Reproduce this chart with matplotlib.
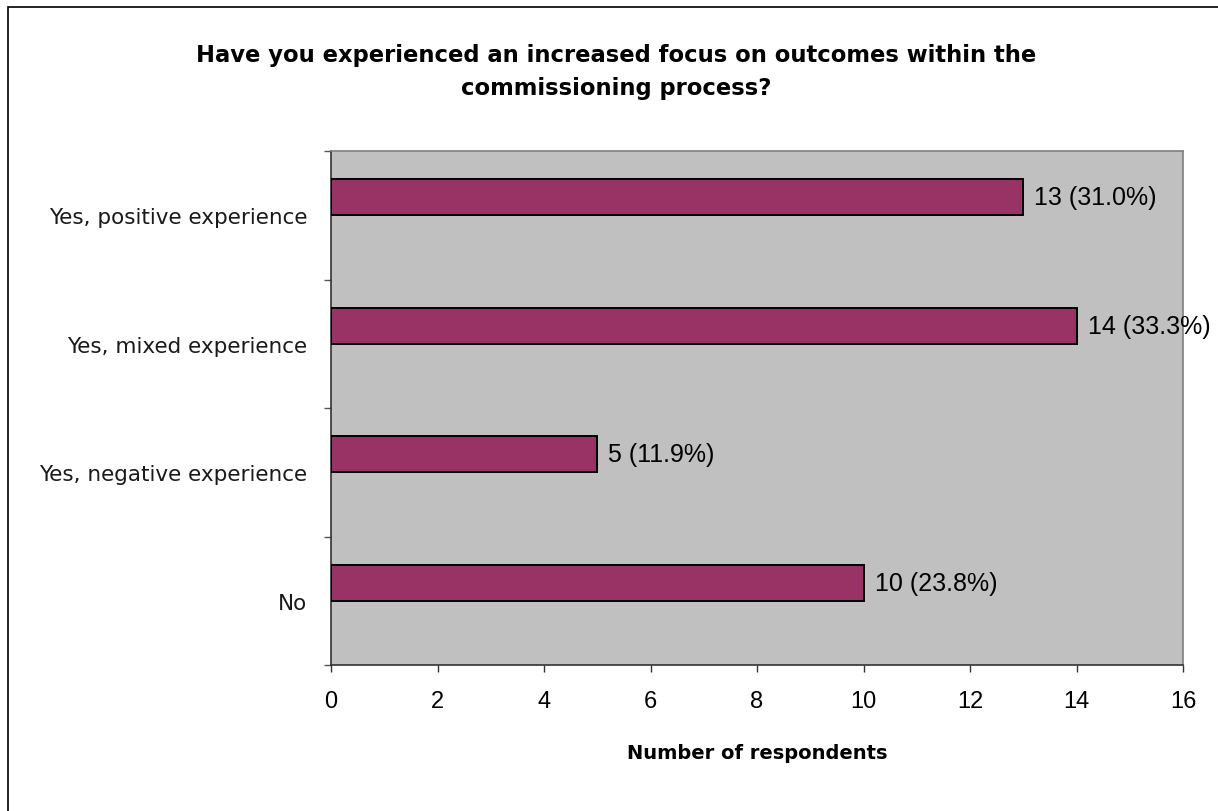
"""Horizontal bar chart: increased focus on outcomes within commissioning."""

import matplotlib
import matplotlib.pyplot as plt
from matplotlib.patches import Rectangle

matplotlib.use("Agg")

# data (top to bottom as shown)
categories = [
    "Yes, positive experience",
    "Yes, mixed experience",
    "Yes, negative experience",
    "No",
]
counts = [13, 14, 5, 10]
percents = [31.0, 33.3, 11.9, 23.8]
x_ticks = [0, 2, 4, 6, 8, 10, 12, 14, 16]

title = "Have you experienced an increased focus on outcomes within the\ncommissioning process?"
x_label = "Number of respondents"

BAR_COLOR = "#993366"
BG_COLOR = "#C0C0C0"
BAR_SHIFT = -0.14  # bars sit a little above the category centre


def main():
    fig = plt.figure(figsize=(12.18, 8.12), dpi=100)

    # chart border (only top and left edges fall inside the picture)
    fig.patches.append(
        Rectangle((8 / 1218, -0.1), 1.2, 1 - 8 / 812 + 0.1,
                  transform=fig.transFigure, fill=False,
                  edgecolor="black", linewidth=1.2)
    )

    ax = fig.add_axes([331 / 1218, 1 - 666 / 812, (1183 - 331) / 1218, (666 - 152) / 812])
    ax.set_facecolor(BG_COLOR)

    n = len(categories)
    pos = list(range(n))
    bar_pos = [p + BAR_SHIFT for p in pos]
    ax.barh(bar_pos, counts, height=0.28, color=BAR_COLOR, edgecolor="black",
            linewidth=1.4, zorder=3)

    for p, c, pct in zip(bar_pos, counts, percents):
        ax.annotate(f"{c} ({pct:.1f}%)", xy=(c, p), xytext=(8, 0),
                    textcoords="offset points", va="center", ha="left",
                    fontsize=18, family="Liberation Sans", zorder=4,
                    annotation_clip=False)

    ax.set_xlim(0, 16)
    ax.set_ylim(n - 0.5, -0.5)
    ax.set_xticks(x_ticks)
    ax.set_xticklabels([str(t) for t in x_ticks], fontsize=17,
                       family="Liberation Sans")
    ax.tick_params(axis="x", direction="out", length=5, width=1,
                   color="#333333", pad=13)

    ax.set_yticks(pos)
    ax.set_yticklabels(categories, fontsize=15.5, family="DejaVu Sans",
                       color="#1a1a1a")
    ax.tick_params(axis="y", which="major", length=0, pad=17)
    ax.set_yticks([p - 0.5 for p in pos] + [n - 0.5], minor=True)
    ax.tick_params(axis="y", which="minor", direction="out", length=5,
                   width=1, color="#555555")

    for side in ("left", "bottom"):
        ax.spines[side].set_color("#333333")
        ax.spines[side].set_linewidth(1.2)
    for side in ("top", "right"):
        ax.spines[side].set_color("#808080")
        ax.spines[side].set_linewidth(1.2)

    ax.set_xlabel(x_label, fontsize=14, fontweight="bold",
                  family="DejaVu Sans", labelpad=22)

    fig.text(616 / 1218, 1 - 72 / 812, title, ha="center", va="center",
             fontsize=16.3, fontweight="bold", family="DejaVu Sans",
             linespacing=1.55)

    fig.savefig("out.png", dpi=100)
    plt.close(fig)


if __name__ == "__main__":
    main()
